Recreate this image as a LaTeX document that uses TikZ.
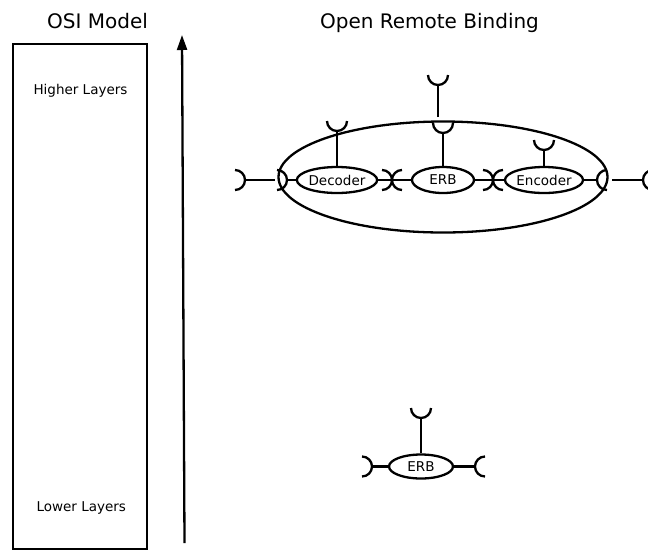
\documentclass[tikz,border=0pt]{standalone}
\usepackage{fontspec}
\setmainfont{DejaVu Sans}
\usetikzlibrary{arrows.meta,calc,shapes.geometric}
\newcommand\cupr{10}
\tikzset{
  wire/.style={line width=2.3pt},
  title/.style={font=\fontsize{20}{24}\selectfont, anchor=base},
  layer/.style={font=\fontsize{13.5}{16}\selectfont, anchor=base},
  unit/.style={draw, ellipse, line width=2.3pt, minimum width=62pt, minimum height=26pt,
    inner sep=0pt, font=\fontsize{13.5}{16}\selectfont},
  % socket symbols: the stem attaches at the pic origin
  pics/cupup/.style={code={\draw[wire] (-\cupr,-\cupr) arc[start angle=180,end angle=360,radius=\cupr pt];}},
  pics/cupleft/.style={code={\draw[wire] (-\cupr,-\cupr) arc[start angle=90,end angle=-90,radius=\cupr pt];}},
  pics/cupright/.style={code={\draw[wire] (\cupr,-\cupr) arc[start angle=90,end angle=270,radius=\cupr pt];}},
}
\begin{document}
\begin{tikzpicture}[x=1pt,y=-1pt]
\useasboundingbox (0,0) rectangle (648,550);

% OSI column
\node[title] (osi) at (97.5,28) {OSI Model};
\node[draw, line width=2.2pt, minimum width=134pt, minimum height=505pt, anchor=north west, inner sep=0pt] (osibox) at (12,43) {};
\node[layer] (higher) at (80.5,94) {Higher Layers};
\node[layer] (lower) at (81.3,511.5) {Lower Layers};
\coordinate (lo) at (184.5,543);
\coordinate (hi) at (182,35);
\draw[line width=2.3pt, -{Triangle[length=15pt,width=10pt]}] (lo) -- (hi);

% open remote binding
\node[title] (orb) at (429.5,28) {Open Remote Binding};
\node[draw, ellipse, line width=2.3pt, minimum width=329pt, minimum height=111pt, inner sep=0pt] (rb) at (443,177) {};
\node[unit] (dec) at (337,180) {Decoder};
\node[unit] (erb) at (443,180) {ERB};
\node[unit] (enc) at (544,180) {Encoder};

% outer left port
\coordinate (oL) at (245,180);
\coordinate (oLe) at (275,180);
\pic at (oL) {cupleft};
\draw[wire] (oL) -- (oLe);
% inner left port
\coordinate (iL) at (287,180);
\pic at (iL) {cupleft};
\draw[wire] (iL) -- (dec.west);
% decoder to ERB
\coordinate (j1) at (392,180);
\pic at (j1) {cupleft};
\pic at (j1) {cupright};
\draw[wire] (dec.east) -- (erb.west);
% ERB to encoder
\coordinate (j2) at (493,180);
\pic at (j2) {cupleft};
\pic at (j2) {cupright};
\draw[wire] (erb.east) -- (enc.west);
% inner right port
\coordinate (iR) at (597,180);
\pic at (iR) {cupright};
\draw[wire] (enc.east) -- (iR);
% outer right port
\coordinate (oRs) at (612,180);
\coordinate (oR) at (643,180);
\pic at (oR) {cupright};
\draw[wire] (oRs) -- (oR);
% upward ports
\coordinate (tE) at (erb.north |- 0,133);
\pic at (tE) {cupup};
\draw[wire] (erb.north) -- (tE);
\coordinate (tO) at (438,85);
\coordinate (tOs) at (438,117);
\pic at (tO) {cupup};
\draw[wire] (tOs) -- (tO);
\coordinate (tD) at (dec.north |- 0,131);
\pic at (tD) {cupup};
\draw[wire] (dec.north) -- (tD);
\coordinate (tN) at (enc.north |- 0,150);
\pic at (tN) {cupup};
\draw[wire] (enc.north) -- (tN);

% single ERB
\node[unit, minimum width=64pt, minimum height=24pt] (erb2) at (421,466.5) {ERB};
\coordinate (bL) at (372,466.5);
\pic at (bL) {cupleft};
\draw[wire] (bL) -- (erb2.west);
\coordinate (bR) at (475,466.5);
\pic at (bR) {cupright};
\draw[wire] (erb2.east) -- (bR);
\coordinate (bT) at (erb2.north |- 0,418);
\pic at (bT) {cupup};
\draw[wire] (erb2.north) -- (bT);
\end{tikzpicture}
\end{document}
